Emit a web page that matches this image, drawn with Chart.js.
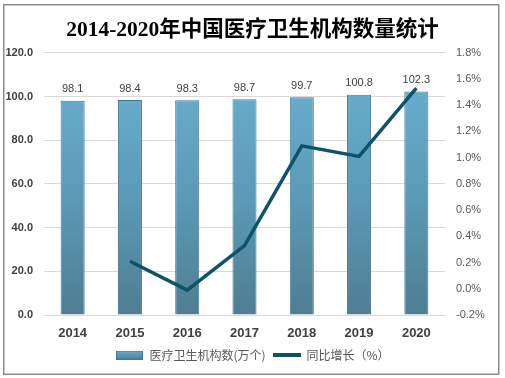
<!DOCTYPE html>
<html>
<head>
<meta charset="utf-8">
<script src="https://cdn.jsdelivr.net/npm/chart.js@4/dist/chart.umd.min.js"></script>
<style>
html,body{margin:0;padding:0;background:#fff;}
#c{display:block;}
</style>
</head>
<body>
<canvas id="c" width="505" height="378"></canvas>
<script>
const years = ['2014','2015','2016','2017','2018','2019','2020'];
const institutions = [98.1, 98.4, 98.3, 98.7, 99.7, 100.8, 102.3];
const growth = [null, 0.21, -0.01, 0.33, 1.09, 1.01, 1.53];
const barLabel = '医疗卫生机构数(万个)';
const lineLabel = '同比增长（%）';
const titleText = '2014-2020年中国医疗卫生机构数量统计';

const LINE_COLOR = '#0e5369';
const BAR_BORDER = '#45788e';

function barGradient(ctx, top, bottom) {
  const g = ctx.createLinearGradient(0, top, 0, bottom);
  g.addColorStop(0, '#67abcb');
  g.addColorStop(0.45, '#5c9bb8');
  g.addColorStop(1, '#4e7e92');
  return g;
}

// legend swatches
const barSw = document.createElement('canvas');
barSw.width = 27; barSw.height = 9;
(function(){
  const x = barSw.getContext('2d');
  const g = x.createLinearGradient(0,0,0,9);
  g.addColorStop(0,'#6aaecd'); g.addColorStop(1,'#4e8099');
  x.fillStyle = g; x.fillRect(0,0,27,9);
  x.strokeStyle = BAR_BORDER; x.lineWidth = 1; x.strokeRect(0.5,0.5,26,8);
})();
const lineSw = document.createElement('canvas');
lineSw.width = 28; lineSw.height = 4;
(function(){
  const x = lineSw.getContext('2d');
  x.fillStyle = LINE_COLOR; x.fillRect(0,0,28,4);
})();

const valueLabels = {
  id: 'valueLabels',
  afterDatasetsDraw(chart) {
    const ctx = chart.ctx;
    const meta = chart.getDatasetMeta(0);
    ctx.save();
    ctx.font = '11px "Liberation Sans", "DejaVu Sans", sans-serif';
    ctx.fillStyle = '#404040';
    ctx.textAlign = 'center';
    ctx.textBaseline = 'bottom';
    meta.data.forEach((el, i) => {
      ctx.fillText(institutions[i].toFixed(1), el.x, el.y - 6);
    });
    ctx.restore();
  }
};

const frame = {
  id: 'frame',
  beforeDraw(chart) {
    const ctx = chart.ctx;
    ctx.save();
    ctx.fillStyle = '#ffffff';
    ctx.fillRect(0, 0, chart.width, chart.height);
    ctx.restore();
  },
  afterDraw(chart) {
    const ctx = chart.ctx;
    ctx.save();
    ctx.strokeStyle = '#8c8c8c';
    ctx.lineWidth = 1.5;
    ctx.strokeRect(3.75, 4.75, 495, 369.5);
    ctx.restore();
  }
};

new Chart(document.getElementById('c'), {
  data: {
    labels: years,
    datasets: [
      {
        type: 'bar',
        label: barLabel,
        data: institutions,
        yAxisID: 'y',
        order: 2,
        backgroundColor(context) {
          const ca = context.chart.chartArea;
          if (!ca) return '#5c9bb8';
          const y = context.chart.scales.y;
          return barGradient(context.chart.ctx, y.getPixelForValue(102), ca.bottom);
        },
        borderColor: BAR_BORDER,
        borderWidth: 1,
        barPercentage: 0.42,
        categoryPercentage: 1.0
      },
      {
        type: 'line',
        label: lineLabel,
        data: growth,
        yAxisID: 'y1',
        order: 1,
        borderColor: LINE_COLOR,
        backgroundColor: LINE_COLOR,
        borderWidth: 3.5,
        pointRadius: 0,
        pointHoverRadius: 0,
        tension: 0,
        spanGaps: false,
        borderCapStyle: 'butt',
        borderJoinStyle: 'miter'
      }
    ]
  },
  options: {
    responsive: false,
    animation: false,
    devicePixelRatio: 1,
    layout: { padding: { left: 0, right: 0, top: 0, bottom: 7 } },
    plugins: {
      tooltip: { enabled: false },
      title: {
        display: true,
        text: titleText,
        color: '#000000',
        font: { family: '"Liberation Serif", "Noto Sans CJK SC", serif', size: 21.5, weight: 'bold' },
        padding: { top: 18, bottom: 9 }
      },
      legend: {
        display: true,
        position: 'bottom',
        labels: {
          usePointStyle: true,
          pointStyleWidth: 28,
          boxHeight: 9,
          padding: 7,
          color: '#595959',
          font: { family: '"Noto Sans CJK SC", sans-serif', size: 12 },
          generateLabels() {
            return [
              { text: barLabel, pointStyle: barSw, fillStyle: '#5c9bb8', strokeStyle: BAR_BORDER, lineWidth: 0, hidden: false, datasetIndex: 0, fontColor: '#595959' },
              { text: lineLabel, pointStyle: lineSw, fillStyle: LINE_COLOR, strokeStyle: LINE_COLOR, lineWidth: 0, hidden: false, datasetIndex: 1, fontColor: '#595959' }
            ];
          }
        }
      }
    },
    scales: {
      x: {
        afterFit(s) { s.height = 27; },
        grid: { display: false, drawTicks: false },
        border: { display: false },
        ticks: {
          padding: 11,
          color: '#404040',
          font: { family: '"Liberation Sans", sans-serif', size: 13, weight: 'bold' }
        }
      },
      y: {
        position: 'left',
        min: 0, max: 120,
        afterFit(s) { s.width = 44; },
        grid: { color: '#d9d9d9', lineWidth: 1, drawTicks: false },
        border: { display: false },
        ticks: {
          stepSize: 20,
          padding: 11,
          color: '#404040',
          font: { family: '"Liberation Sans", sans-serif', size: 11, weight: 'bold' },
          callback: v => Number(v).toFixed(1)
        }
      },
      y1: {
        position: 'right',
        min: -0.2, max: 1.8,
        afterFit(s) { s.width = 60; },
        grid: { display: false, drawTicks: false },
        border: { display: false },
        ticks: {
          stepSize: 0.2,
          padding: 11,
          color: '#595959',
          font: { family: '"Liberation Sans", sans-serif', size: 11 },
          callback: v => Number(v).toFixed(1) + '%'
        }
      }
    }
  },
  plugins: [frame, valueLabels]
});
</script>
</body>
</html>
